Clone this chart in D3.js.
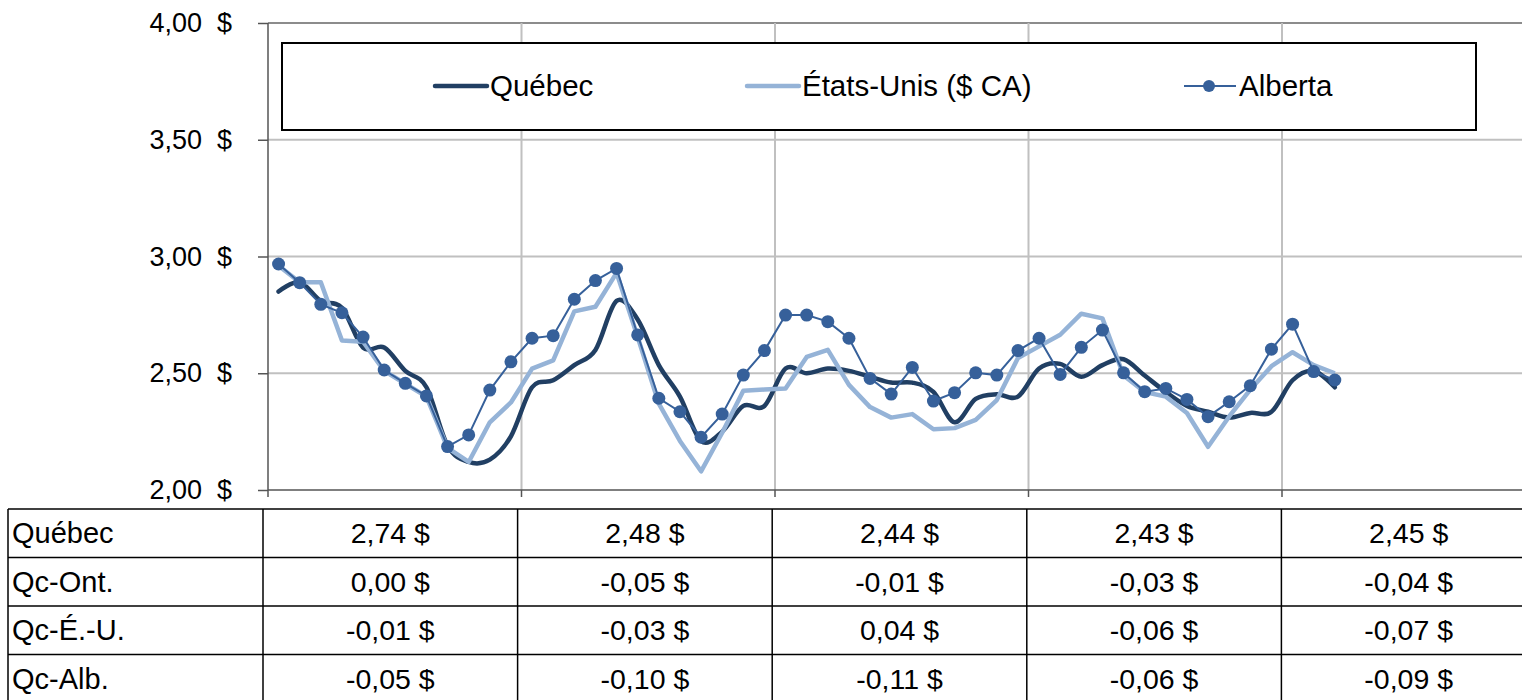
<!DOCTYPE html>
<html>
<head>
<meta charset="utf-8">
<script src="https://cdn.jsdelivr.net/npm/d3@7"></script>
<style>
  body { margin: 0; background: #fff; }
  svg { display: block; font-family: "Liberation Sans", Arial, sans-serif; }
</style>
</head>
<body>
<script>
// monthly prices, 60 month slots (5 columns of 12), 51 observed
var nMonths = 60;
var quebec = [2.85, 2.89, 2.81, 2.78, 2.61, 2.61, 2.51, 2.44, 2.19, 2.12, 2.13,
  2.23, 2.44, 2.47, 2.535, 2.60, 2.81, 2.73, 2.535, 2.40, 2.21,
  2.25, 2.36, 2.36, 2.52, 2.50, 2.52, 2.51, 2.485, 2.46, 2.46,
  2.42, 2.29, 2.39, 2.41, 2.40, 2.52, 2.54, 2.485, 2.535, 2.56, 2.49,
  2.42, 2.36, 2.335, 2.31, 2.33, 2.335, 2.47, 2.51, 2.44];
var usa = [2.96, 2.89, 2.89, 2.64, 2.635, 2.51, 2.455, 2.40, 2.18, 2.12, 2.29,
  2.375, 2.52, 2.555, 2.765, 2.785, 2.93, 2.655, 2.37, 2.21, 2.08,
  2.245, 2.425, 2.43, 2.435, 2.57, 2.60, 2.45, 2.355, 2.31, 2.325,
  2.26, 2.265, 2.30, 2.385, 2.565, 2.615, 2.665, 2.755, 2.735, 2.49, 2.42,
  2.40, 2.33, 2.185, 2.315, 2.43, 2.53, 2.59, 2.535, 2.50];
var alberta = [2.968, 2.888, 2.795, 2.759, 2.655, 2.514, 2.457, 2.403, 2.186, 2.236, 2.428,
  2.549, 2.650, 2.661, 2.817, 2.897, 2.949, 2.664, 2.393, 2.335, 2.226,
  2.325, 2.492, 2.597, 2.749, 2.749, 2.721, 2.650, 2.478, 2.411, 2.525,
  2.381, 2.417, 2.502, 2.492, 2.597, 2.650, 2.495, 2.611, 2.685, 2.502, 2.421,
  2.435, 2.388, 2.314, 2.378, 2.447, 2.603, 2.710, 2.507, 2.471];

var seriesNames = ["Québec", "États-Unis ($ CA)", "Alberta"];
var yTicks = [2.0, 2.5, 3.0, 3.5, 4.0];

// table under the chart
var rowLabels = ["Québec", "Qc-Ont.", "Qc-É.-U.", "Qc-Alb."];
var rowQuebec = ["2,74 $", "2,48 $", "2,44 $", "2,43 $", "2,45 $"];
var rowQcOnt = ["0,00 $", "-0,05 $", "-0,01 $", "-0,03 $", "-0,04 $"];
var rowQcEU = ["-0,01 $", "-0,03 $", "0,04 $", "-0,06 $", "-0,07 $"];
var rowQcAlb = ["-0,05 $", "-0,10 $", "-0,11 $", "-0,06 $", "-0,09 $"];

var W = 1522, H = 700;
var plot = {left: 268, top: 23, right: 1535.5, bottom: 490};
var colQc = "#213f63", colUS = "#95b3d7", colAb = "#36609a";

var svg = d3.select("body").append("svg").attr("width", W).attr("height", H);

var x = d3.scaleBand().domain(d3.range(nMonths)).range([plot.left, plot.right]);
var y = d3.scaleLinear().domain([2, 4]).range([plot.bottom, plot.top]);
var cx = function(d, i) { return x(i) + x.bandwidth() / 2; };

// horizontal gridlines
svg.append("g").selectAll("line").data(yTicks.slice(1)).enter().append("line")
  .attr("x1", plot.left).attr("x2", W)
  .attr("y1", function(d) { return y(d); }).attr("y2", function(d) { return y(d); })
  .attr("stroke", function(d) { return d == 4 ? "#8c8c8c" : "#c0c0c0"; })
  .attr("stroke-width", 2);

// vertical gridlines at each 12-month boundary
var bounds = d3.range(12, nMonths, 12);
svg.append("g").selectAll("line").data(bounds).enter().append("line")
  .attr("x1", function(d) { return x(d); }).attr("x2", function(d) { return x(d); })
  .attr("y1", plot.top).attr("y2", plot.bottom)
  .attr("stroke", "#c0c0c0").attr("stroke-width", 2);

// y axis
var yAxis = d3.axisLeft(y).tickValues(yTicks).tickSize(10).tickPadding(26)
  .tickFormat(function(d) { return d3.format(".2f")(d).replace(".", ",") + "\u00a0 $"; });
var gy = svg.append("g").attr("transform", "translate(" + plot.left + ",0)").call(yAxis);
gy.select(".domain").remove();
gy.selectAll(".tick line").attr("stroke", "#555").attr("stroke-width", 1.5);
gy.selectAll(".tick text").attr("font-size", 27).attr("fill", "#000")
  .attr("font-family", "Liberation Sans, Arial, sans-serif");
svg.append("line").attr("x1", plot.left).attr("x2", plot.left)
  .attr("y1", plot.top).attr("y2", plot.bottom + 7).attr("stroke", "#555").attr("stroke-width", 1.5);

// x axis line with ticks at boundaries
svg.append("line").attr("x1", plot.left).attr("x2", W)
  .attr("y1", plot.bottom).attr("y2", plot.bottom).attr("stroke", "#555").attr("stroke-width", 1.5);
svg.append("g").selectAll("line").data(bounds).enter().append("line")
  .attr("x1", function(d) { return x(d); }).attr("x2", function(d) { return x(d); })
  .attr("y1", plot.bottom).attr("y2", plot.bottom + 7)
  .attr("stroke", "#555").attr("stroke-width", 1.5);

// lines
var smooth = d3.line().x(cx).y(function(d) { return y(d); }).curve(d3.curveCatmullRom.alpha(0));
var straight = d3.line().x(cx).y(function(d) { return y(d); });

svg.append("path").attr("d", smooth(quebec)).attr("fill", "none")
  .attr("stroke", colQc).attr("stroke-width", 4.5).attr("stroke-linecap", "round");
svg.append("path").attr("d", straight(usa)).attr("fill", "none")
  .attr("stroke", colUS).attr("stroke-width", 4.5).attr("stroke-linejoin", "round");
svg.append("path").attr("d", straight(alberta)).attr("fill", "none")
  .attr("stroke", colAb).attr("stroke-width", 2);
svg.append("g").selectAll("circle").data(alberta).enter().append("circle")
  .attr("cx", cx).attr("cy", function(d) { return y(d); })
  .attr("r", 6.5).attr("fill", colAb);

// legend
var lg = svg.append("g");
lg.append("rect").attr("x", 282).attr("y", 43).attr("width", 1194).attr("height", 87)
  .attr("fill", "#fff").attr("stroke", "#000").attr("stroke-width", 2);
var legendX = [433, 745, 1182];
var legendCol = [colQc, colUS, colAb];
seriesNames.forEach(function(name, i) {
  var g = lg.append("g").attr("transform", "translate(" + legendX[i] + ",86)");
  g.append("line").attr("x1", 2).attr("x2", 54).attr("y1", 0).attr("y2", 0)
    .attr("stroke", legendCol[i]).attr("stroke-width", i == 2 ? 2 : 4.5)
    .attr("stroke-linecap", i == 2 ? "butt" : "round");
  if (i == 2) g.append("circle").attr("cx", 27).attr("r", 6).attr("fill", colAb);
  g.append("text").attr("x", 57).attr("y", 10).attr("font-size", 29.5).text(name);
});

// data table
var tableRows = [rowQuebec, rowQcOnt, rowQcEU, rowQcAlb];
var tx = d3.scaleBand().domain(d3.range(5)).range([263, 1536]);
var rowTop = 509, rowH = 48.5;
var tg = svg.append("g");
d3.range(5).forEach(function(r) {
  tg.append("line").attr("x1", 8).attr("x2", W)
    .attr("y1", rowTop + r * rowH).attr("y2", rowTop + r * rowH)
    .attr("stroke", "#000").attr("stroke-width", 1.5);
});
[8].concat(d3.range(6).map(function(i) { return i < 5 ? tx(i) : tx(4) + tx.bandwidth(); }))
  .forEach(function(vx) {
    tg.append("line").attr("x1", vx).attr("x2", vx).attr("y1", rowTop).attr("y2", H)
      .attr("stroke", "#000").attr("stroke-width", 1.5);
  });
tableRows.forEach(function(vals, r) {
  var by = rowTop + r * rowH + rowH / 2 + 10;
  tg.append("text").attr("x", 12).attr("y", by).attr("font-size", 29).text(rowLabels[r]);
  tg.selectAll(null).data(vals).enter().append("text")
    .attr("x", function(d, i) { return tx(i) + tx.bandwidth() / 2; })
    .attr("y", by).attr("text-anchor", "middle").attr("font-size", 28.5)
    .text(function(d) { return d; });
});
</script>
</body>
</html>
